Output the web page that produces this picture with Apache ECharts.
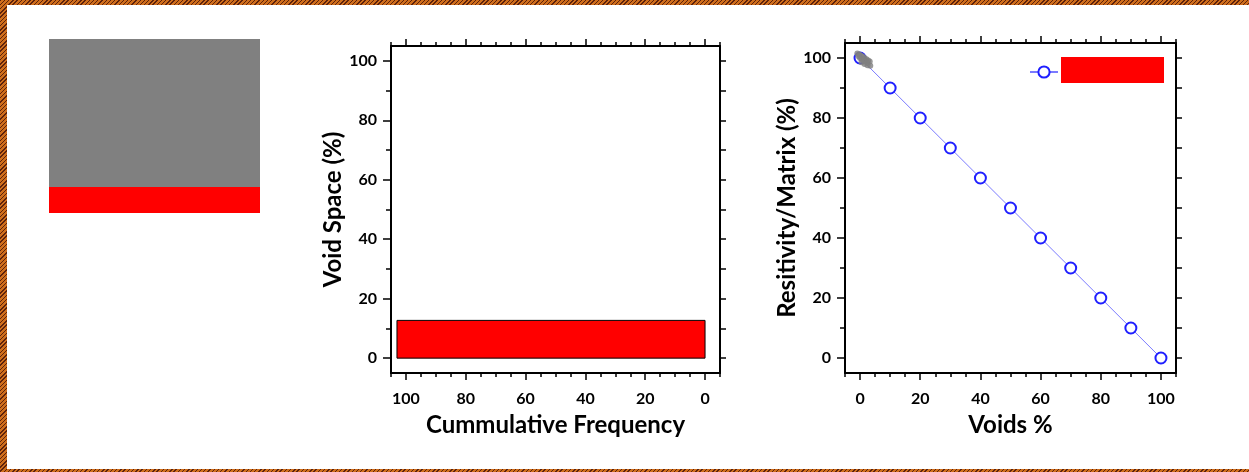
<!DOCTYPE html>
<html>
<head>
<meta charset="utf-8">
<script src="https://cdn.jsdelivr.net/npm/echarts@6/dist/echarts.min.js"></script>
<style>
	html, body { margin: 0; padding: 0; }
	.frame {
		position: relative;
		width: 1249px;
		height: 472px;
		background: repeating-linear-gradient(135deg, #5e220b 0px, #5e220b 1px, #cf6e1c 1px, #cf6e1c 3px);
	}
	.paper { position: absolute; left: 7px; top: 5px; right: 0; bottom: 3px; background: #fff; }
	#chart { position: absolute; left: 0; top: 0; width: 1249px; height: 472px; }
</style>
</head>
<body>
<div class="frame"><div class="paper"></div><div id="chart"></div></div>
<script>
// 数据：刻度
const majorTicks = [0, 20, 40, 60, 80, 100];
const minorTicksX = [-5, 0, 5, 10, 15, 20, 25, 30, 35, 40, 45, 50, 55, 60, 65, 70, 75, 80, 85, 90, 95, 100, 105];
const minorTicksY = [10, 30, 50, 70, 90];
const sideTicksY = [0, 10, 20, 30, 40, 50, 60, 70, 80, 90, 100];

// 数据：左图（累计频率 - 孔隙）红色条
const barFreqFrom = [103];
const barFreqTo = [0];
const barVoidLow = [0];
const barVoidHigh = [12.7];

// 数据：右图（孔隙% - 电阻率/基质%）
const voidsPct = [0, 10, 20, 30, 40, 50, 60, 70, 80, 90, 100];
const resistivity = [100, 90, 80, 70, 60, 50, 40, 30, 20, 10, 0];
const grayVoids = [-0.9, -0.3, 0.3, 0.9, 1.5, 2.1, 2.7, 3.2, 0, 0.6, 1.2, 1.8, 2.4, -0.5, 0.5, 1.5, 2.5, 3.4];
const grayRes = [101.5, 101.2, 100.8, 100.4, 100, 99.6, 99.2, 98.8, 100, 99.6, 99.2, 98.8, 98.4, 100.6, 98.6, 98, 97.6, 97.4];

const font = 'Lato';
const labelStyle = { color: '#000', fontFamily: font, fontWeight: 'bold', fontSize: 16 };
const nameStyle = { color: '#000', fontFamily: font, fontWeight: 'bold', fontSize: 24 };
const lineStyle = { color: '#000', width: 2 };

// 生成一个坐标轴（只负责刻度或标签）
function axis(grid, position, ticks, len, extra) {
	return Object.assign({
		type: 'value',
		gridIndex: grid,
		position: position,
		min: -5,
		max: 105,
		axisLine: { show: false, onZero: false, lineStyle: lineStyle },
		axisTick: { show: true, customValues: ticks, length: len, inside: false, lineStyle: { color: '#000', width: 1.5 } },
		axisLabel: { show: false },
		splitLine: { show: false },
	}, extra || {});
}

function xAxes(grid, inverse, name) {
	return [
		axis(grid, 'bottom', majorTicks, 7, {
			inverse: inverse,
			axisLine: { show: true, onZero: false, lineStyle: lineStyle },
			axisLabel: { show: true, customValues: majorTicks, margin: 18, ...labelStyle },
			name: name,
			nameLocation: 'middle',
			nameGap: 40,
			nameTextStyle: nameStyle,
		}),
		axis(grid, 'bottom', minorTicksX, 4, { inverse: inverse }),
		axis(grid, 'top', majorTicks, 7, { inverse: inverse, axisLine: { show: true, onZero: false, lineStyle: lineStyle } }),
		axis(grid, 'top', minorTicksX, 4, { inverse: inverse }),
	];
}

function yAxes(grid, name) {
	return [
		axis(grid, 'left', majorTicks, 8, {
			axisLine: { show: true, onZero: false, lineStyle: lineStyle },
			axisLabel: { show: true, customValues: majorTicks, margin: 14, ...labelStyle },
			name: name,
			nameLocation: 'middle',
			nameGap: 46,
			nameTextStyle: nameStyle,
		}),
		axis(grid, 'left', minorTicksY, 5),
		axis(grid, 'right', sideTicksY, 6, { axisLine: { show: true, onZero: false, lineStyle: lineStyle } }),
	];
}

const myChart = echarts.init(document.getElementById('chart'));
myChart.setOption({
	animation: false,
	backgroundColor: 'transparent',
	grid: [
		{ left: 391, top: 46, width: 329, height: 327 },
		{ left: 845, top: 43, width: 331, height: 330 },
	],
	xAxis: [...xAxes(0, true, 'Cummulative Frequency'), ...xAxes(1, false, 'Voids %')],
	yAxis: [...yAxes(0, 'Void Space (%)'), ...yAxes(1, 'Resitivity/Matrix (%)')],
	legend: {
		data: ['Voids'],
		left: 1029,
		top: 65,
		padding: 0,
		itemWidth: 28,
		itemHeight: 14,
		formatter: () => '',
	},
	graphic: [
		// 左侧色块
		{ type: 'rect', left: 49, top: 39, shape: { width: 211, height: 148 }, style: { fill: '#808080' } },
		{ type: 'rect', left: 49, top: 187, shape: { width: 211, height: 26 }, style: { fill: '#ff0000' } },
		// 图例文字处的红色块
		{ type: 'rect', left: 1061, top: 57, z: 100, shape: { width: 103, height: 26 }, style: { fill: '#ff0000' } },
	],
	series: [
		{
			type: 'custom',
			xAxisIndex: 0,
			yAxisIndex: 0,
			data: barFreqFrom.map((f, i) => [f, barFreqTo[i], barVoidLow[i], barVoidHigh[i]]),
			encode: { x: [0, 1], y: [2, 3] },
			renderItem: function (params, api) {
				const a = api.coord([api.value(0), api.value(3)]);
				const b = api.coord([api.value(1), api.value(2)]);
				return {
					type: 'rect',
					shape: {
						x: Math.min(a[0], b[0]),
						y: Math.min(a[1], b[1]),
						width: Math.abs(b[0] - a[0]),
						height: Math.abs(b[1] - a[1]),
					},
					style: { fill: '#ff0000', stroke: '#000', lineWidth: 1 },
				};
			},
		},
		{
			name: 'Voids',
			type: 'line',
			xAxisIndex: 4,
			yAxisIndex: 3,
			data: voidsPct.map((v, i) => [v, resistivity[i]]),
			symbol: 'emptyCircle',
			symbolSize: 11,
			lineStyle: { color: '#7a7aff', width: 1 },
			itemStyle: { color: '#1f1fff', borderWidth: 1.5 },
			z: 3,
		},
		{
			type: 'scatter',
			xAxisIndex: 4,
			yAxisIndex: 3,
			data: grayVoids.map((v, i) => [v, grayRes[i]]),
			symbolSize: 6,
			itemStyle: { color: '#808080' },
			z: 4,
		},
	],
});
</script>
</body>
</html>
